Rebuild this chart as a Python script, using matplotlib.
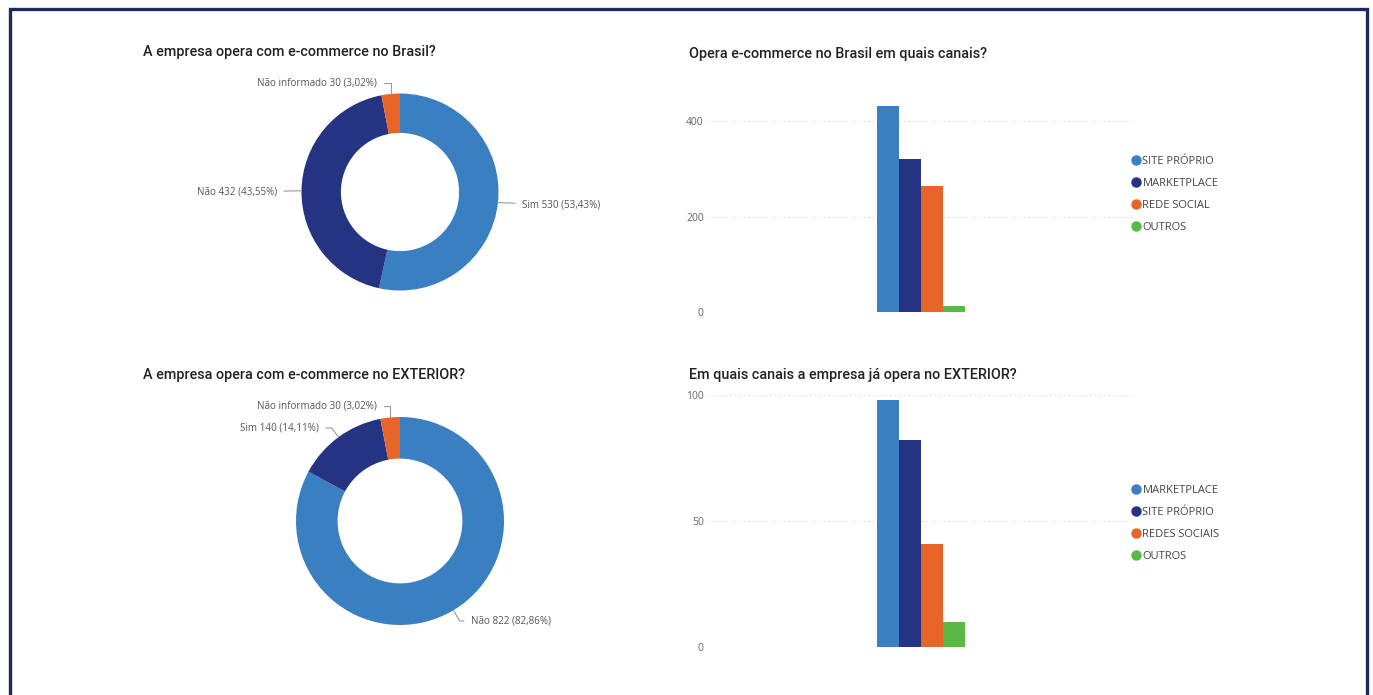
import matplotlib.pyplot as plt
from matplotlib.lines import Line2D
from matplotlib.patches import Rectangle
import numpy as np

W, H = 1373, 695

# ---- data ----
br_labels = ['Sim', 'Não', 'Não informado']
br_values = [530, 432, 30]
br_pct = ['53,43%', '43,55%', '3,02%']

ext_labels = ['Não', 'Sim', 'Não informado']
ext_values = [822, 140, 30]
ext_pct = ['82,86%', '14,11%', '3,02%']

br_canais = ['SITE PRÓPRIO', 'MARKETPLACE', 'REDE SOCIAL', 'OUTROS']
br_canais_val = [431, 321, 264, 12]

ext_canais = ['MARKETPLACE', 'SITE PRÓPRIO', 'REDES SOCIAIS', 'OUTROS']
ext_canais_val = [98, 82, 41, 10]

LIGHT = '#3A7FC2'
NAVY = '#253383'
ORANGE = '#E8652A'
GREEN = '#58B947'
bar_colors = [LIGHT, NAVY, ORANGE, GREEN]

TITLE_FONT = dict(family='Roboto', weight='medium', size=10.4, color='#222222')
LBL_FONT = dict(family='Open Sans', size=7.1, color='#555555')


def box(x0, y0, x1, y1):
    # pixel box (top-left origin) -> figure fraction
    return [x0 / W, 1 - y1 / H, (x1 - x0) / W, (y1 - y0) / H]


fig = plt.figure(figsize=(W / 100, H / 100), dpi=100)
fig.patch.set_facecolor('white')

# outer frame
fig.add_artist(Rectangle((9.5 / W, -0.05), (1357.5) / W, 1 - 9.5 / H + 0.05,
                         transform=fig.transFigure, fill=False,
                         edgecolor='#1F2A5C', lw=2.4))


def donut(cx, cy, r, values, colors, labels, texts):
    half = 160
    ax = fig.add_axes(box(cx - half, cy - half, cx + half, cy + half))
    ax.pie(values, colors=colors, startangle=90, counterclock=False,
           radius=1, wedgeprops=dict(width=0.4, lw=0))
    lim = half / r
    ax.set_xlim(-lim, lim)
    ax.set_ylim(-lim, lim)
    ax.set_aspect('equal')
    ax.axis('off')
    total = sum(values)
    start = 90.0
    for v, lab, (tx, ty, ha, conn) in zip(values, labels, texts):
        span = 360.0 * v / total
        mid = np.deg2rad(start - span / 2)
        start -= span
        xy = (np.cos(mid), np.sin(mid))
        ax.annotate(lab, xy=xy, xytext=(tx, H - ty), textcoords='figure pixels',
                    ha=ha, va='center', **LBL_FONT,
                    arrowprops=dict(arrowstyle='-', color='#9A9A9A', lw=0.8,
                                    shrinkA=3, shrinkB=0,
                                    connectionstyle=conn))
    return ax


# donut 1 - Brasil
lab1 = [f'{l} {v} ({p})' for l, v, p in zip(br_labels, br_values, br_pct)]
donut(400, 192, 98.5, br_values, [LIGHT, NAVY, ORANGE], lab1,
      [(522, 205, 'left', 'arc3'),
       (277, 192, 'right', 'arc3'),
       (377, 83, 'right', 'angle,angleA=0,angleB=90,rad=0')])

# donut 2 - Exterior
lab2 = [f'{l} {v} ({p})' for l, v, p in zip(ext_labels, ext_values, ext_pct)]
donut(400, 521, 104, ext_values, [LIGHT, NAVY, ORANGE], lab2,
      [(471, 621, 'left', 'angle,angleA=180,angleB=-59,rad=0'),
       (319, 428, 'right', 'angle,angleA=0,angleB=126,rad=0'),
       (377, 406, 'right', 'angle,angleA=0,angleB=90,rad=0')])

fig.text(143 / W, 1 - 52 / H, 'A empresa opera com e-commerce no Brasil?',
         va='center', ha='left', **TITLE_FONT)
fig.text(143 / W, 1 - 375 / H, 'A empresa opera com e-commerce no EXTERIOR?',
         va='center', ha='left', **TITLE_FONT)
fig.text(689 / W, 1 - 54 / H, 'Opera e-commerce no Brasil em quais canais?',
         va='center', ha='left', **TITLE_FONT)
fig.text(689 / W, 1 - 375 / H, 'Em quais canais a empresa já opera no EXTERIOR?',
         va='center', ha='left', **TITLE_FONT)


def bars(y_top, y_zero, ymax, ticks, names, vals, leg_y):
    ax = fig.add_axes(box(708, y_top, 1132, y_zero))
    x = np.arange(len(vals))
    ax.bar(x, vals, width=1, align='edge', color=bar_colors)
    ax.set_xlim(-7.68, 11.59)
    ax.set_ylim(0, ymax)
    ax.set_yticks(ticks)
    ax.set_xticks([])
    ax.tick_params(axis='y', length=0, pad=3, labelsize=7.5, labelcolor='#666666')
    for t in ax.get_yticklabels():
        t.set_family('Open Sans')
    ax.grid(axis='y', color='#CFCFCF', ls=(0, (1, 3)), lw=0.8)
    ax.set_axisbelow(True)
    for s in ax.spines.values():
        s.set_visible(False)
    ax.set_facecolor('none')
    handles = [Line2D([], [], ls='', marker='o', ms=6.5, color=c) for c in bar_colors]
    fig.legend(handles, names, loc='upper left',
               bbox_to_anchor=(1133 / W, 1 - leg_y / H), frameon=False,
               handlelength=0.6, handletextpad=0.25, labelspacing=0.98,
               borderaxespad=0, borderpad=0,
               prop=dict(family='Open Sans', size=8), labelcolor='#444444')
    return ax


bars(100, 312, 444, [0, 200, 400], br_canais, br_canais_val, 156)
bars(390, 647, 102, [0, 50, 100], ext_canais, ext_canais_val, 485)

fig.savefig('out.png', dpi=100, facecolor='white')
